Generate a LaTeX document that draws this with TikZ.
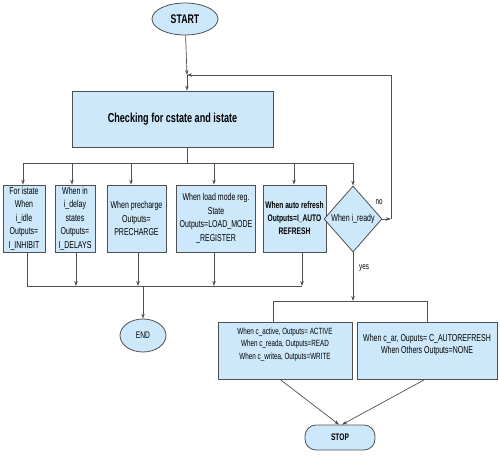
\documentclass[tikz,border=0pt]{standalone}
\usepackage{fontspec}
\setmainfont{Liberation Sans}[FakeStretch=0.7]
\usetikzlibrary{shapes.geometric,arrows.meta}
\definecolor{fillb}{HTML}{CDE8FA}
\definecolor{edge}{HTML}{505050}
\tikzset{
  box/.style={draw=edge, fill=fillb, line width=0.8pt, align=center, font=\fontsize{10}{13.5}\selectfont, inner sep=1pt},
  oval/.style={draw=edge, fill=fillb, line width=0.8pt, ellipse, inner sep=0pt, font=\fontsize{9.5}{10}\selectfont},
  dia/.style={draw=edge, fill=fillb, line width=0.8pt, diamond, inner sep=0pt, font=\fontsize{10}{11}\selectfont},
  ln/.style={draw=edge, line width=0.7pt},
  arr/.style={ln, -{Stealth[length=5pt,width=3.5pt]}},
  lab/.style={font=\fontsize{9}{10}\selectfont}
}
\begin{document}
\begin{tikzpicture}[x=1pt,y=-1pt]
\useasboundingbox (0,0) rectangle (500,458);
\node[oval, minimum width=66pt, minimum height=32pt, font=\fontsize{12.5}{13}\selectfont\bfseries] (start) at (185,19) {START};
\node[box, minimum width=201pt, minimum height=56pt, font=\fontsize{13}{14}\selectfont\bfseries] (main) at (172.5,119) {Checking for cstate and istate};
\coordinate (j) at (187,75);
\coordinate (bus) at (187,163);
\node[box, minimum width=42pt, minimum height=67pt] (b1) at (24,218.5) {For istate\\When\\i\_idle\\Outputs=\\I\_INHIBIT};
\node[box, minimum width=40pt, minimum height=67pt] (b2) at (75,218.5) {When in\\i\_delay\\states\\Outputs=\\I\_DELAYS};
\node[box, minimum width=59pt, minimum height=67pt] (b3) at (136.5,218.5) {When precharge\\Outputs=\\PRECHARGE};
\node[box, minimum width=79pt, minimum height=67pt] (b4) at (216,218.5) {When load mode reg.\\State\\Outputs=LOAD\_MODE\\\_REGISTER};
\node[box, minimum width=63pt, minimum height=67pt, font=\fontsize{9.5}{13}\selectfont\bfseries] (b5) at (294.5,218.5) {When auto refresh\\Outputs=I\_AUTO\\REFRESH};
\node[dia, minimum width=58pt, minimum height=66pt, aspect=0.88] (d) at (353,219) {When i\_ready};
\coordinate (nr) at (391,219);
\node[lab] at (379,202) {no};
\node[lab] at (364,268) {yes};
\node[oval, minimum width=46pt, minimum height=33pt] (end) at (143,335.5) {END};
\coordinate (bb) at (143,286);
\coordinate (ys) at (353,301);
\node[box, minimum width=134pt, minimum height=57pt] (l) at (285,350.5) {};
\node[font=\fontsize{9}{12.5}\selectfont, align=center] at (285,344.5) {When c\_active, Outputs= ACTIVE\\When c\_reada, Outputs=READ\\When c\_writea, Outputs=WRITE};
\node[box, minimum width=140pt, minimum height=57pt] (r) at (427,350.5) {};
\node[font=\fontsize{10}{12.5}\selectfont, align=center] at (427,345) {When c\_ar, Ouputs= C\_AUTOREFRESH\\When Others Outputs=NONE};
\node[box, rounded corners=11pt, minimum width=70pt, minimum height=25pt, font=\fontsize{9.5}{10}\selectfont\bfseries] (stop) at (340,437.5) {STOP};
% top
\draw[arr] (start) -- (j);
\draw[arr] (j) -- (main.north -| j);
\draw[ln] (main.south -| bus) -- (bus);
\draw[ln] (b1.north |- bus) -- (d.north |- bus);
\foreach \n/\x in {b1/23,b2/72,b3/131,b4/214,b5/294} {
  \draw[arr] (\x,163) -- (\n.north -| {(\x,0)});
}
\draw[arr] (d.north |- bus) -- (d.north);
\draw[arr] (d.east) -- (nr);
\draw[arr] (nr) |- (j);
% bottom bus
\draw[ln] (b1.south -| {(27,0)}) -- (27,286) -- (302,286);
\foreach \n/\x in {b2/76,b3/138,b4/214,b5/302} {
  \draw[arr] (\n.south -| {(\x,0)}) -- (\x,286);
}
\draw[arr] (bb) -- (end.north);
% yes branch
\draw[arr] (d.south) -- (ys);
\draw[ln] (l.north -| {(273,0)}) |- (r.north |- ys) -- (r.north);
\draw[arr] ([xshift=-5pt]l.south) -- ([xshift=-1pt]stop.north);
\draw[arr] ([xshift=-2pt]r.south) -- ([xshift=2pt]stop.north);
\end{tikzpicture}
\end{document}
